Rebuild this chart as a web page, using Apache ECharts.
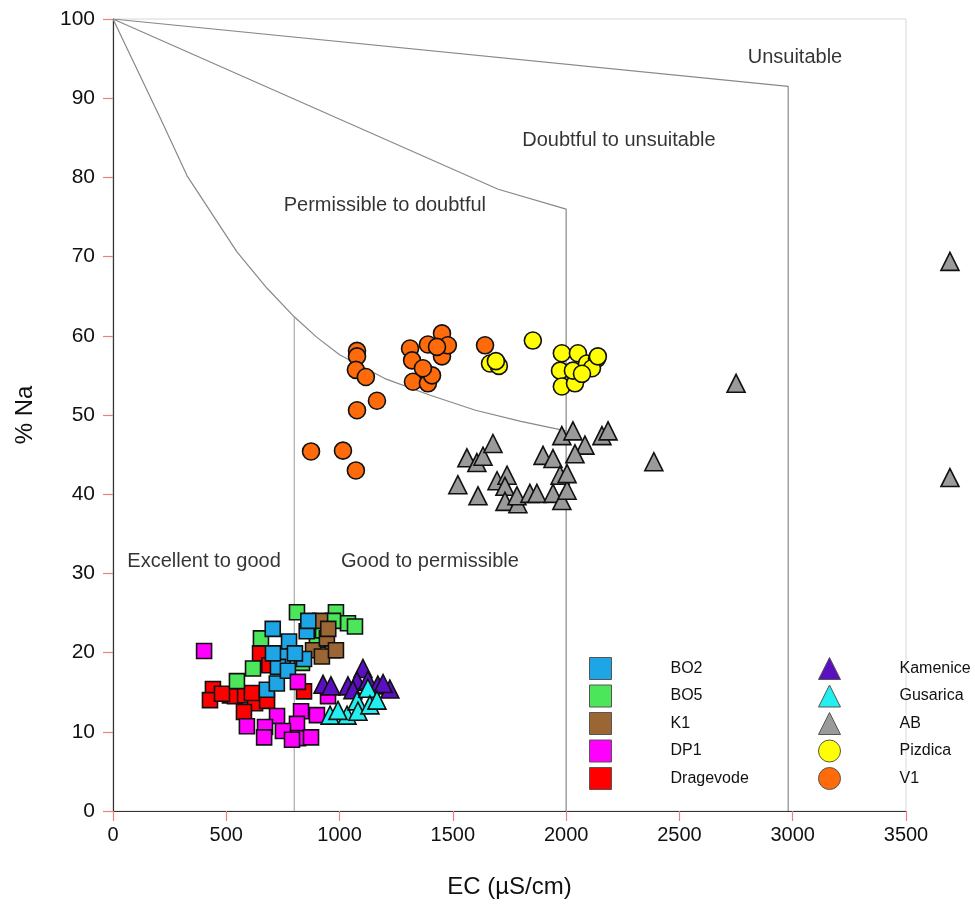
<!DOCTYPE html>
<html><head><meta charset="utf-8">
<script src="https://cdn.jsdelivr.net/npm/echarts@6/dist/echarts.min.js"></script>
<style>html,body{margin:0;padding:0;background:#fff}#c{width:975px;height:904px}</style>
</head><body><div id="c"></div>
<script>
// ---- data ----
var xTicks = [0,500,1000,1500,2000,2500,3000,3500];
var yTicks = [0,10,20,30,40,50,60,70,80,90,100];
var BO2 = [[705,23.0],[777,21.4],[855,22.7],[862,24.0],[750,19.5],[843,19.2],[728,18.2],[706,19.9],[679,15.3],[723,16.1],[803,19.9],[772,17.7]];
var BO5 = [[812,25.1],[984,25.1],[1037,23.7],[653,21.8],[618,18.0],[547,16.4],[900,21.6],[927,22.8],[1068,23.3],[834,18.7],[971,24.0]];
var K1 = [[914,24.0],[883,20.3],[971,20.3],[944,21.8],[922,19.5],[984,20.3],[950,23.0]];
var DP1 = [[402,20.2],[816,16.3],[949,14.5],[724,12.0],[830,12.6],[900,12.1],[591,10.7],[671,10.6],[667,9.3],[812,11.0],[750,10.1],[817,9.2],[874,9.3],[790,9.0]];
var Dragevode = [[441,15.4],[428,14.0],[516,14.6],[538,14.5],[583,14.6],[627,13.6],[578,12.5],[649,19.9],[680,13.9],[843,15.1],[481,14.8],[613,14.9],[690,18.4]];
var Kamenice = [[927,16.0],[962,15.8],[1103,18.0],[1037,15.8],[1077,16.4],[1125,16.5],[1169,15.9],[1222,15.4],[1059,15.3],[1192,16.1]];
var Gusarica = [[958,12.1],[1033,12.1],[1077,13.9],[1125,15.5],[1081,12.6],[1134,13.4],[1165,14.0],[993,12.7]];
var AB = [[1522,41.2],[1562,44.6],[1606,44.0],[1633,44.8],[1677,46.4],[1611,39.8],[1695,41.7],[1739,42.4],[1730,41.0],[1730,39.1],[1787,38.8],[1783,39.8],[1840,40.1],[1871,40.1],[1898,44.9],[1942,44.5],[1973,42.4],[1942,40.1],[1981,39.2],[2004,40.5],[1981,47.4],[2030,48.0],[2083,46.2],[2039,45.1],[2158,47.4],[2185,48.0],[2387,44.1],[2004,42.6],[2750,54.0],[3694,69.4],[3694,42.1]];
var Pizdica = [[1664,56.5],[1703,56.2],[1853,59.4],[1981,57.8],[2052,57.8],[1973,55.6],[1981,53.6],[2039,54.0],[2030,55.6],[2092,56.5],[2136,57.1],[2114,55.9],[2070,55.2],[2140,57.4],[1690,56.8]];
var V1 = [[1077,58.1],[1077,57.4],[1072,55.7],[1116,54.8],[1165,51.8],[1077,50.6],[874,45.4],[1015,45.5],[1072,43.0],[1311,58.4],[1320,56.9],[1324,54.2],[1390,58.9],[1390,54.0],[1452,60.3],[1452,57.4],[1408,55.0],[1368,55.9],[1478,58.8],[1430,58.6],[1642,58.8]];
// classification boundaries
var lineUnsuitable = [[0,100],[2980,91.5],[2980,0]];
var lineDoubtful = [[0,100],[1700,78.5],[2000,76],[2000,0]];
var linePermissible = [[0,100],[207,87.6],[327,80.2],[547,70.6],[680,66],[800,62.4],[900,59.8],[1000,57.6],[1200,54.6],[1400,52.5],[1600,50.6],[1800,49.2],[2000,48]];
var lineGood = [[800,62.4],[800,0]];
var regionLabels = [[3010,95.2,'Unsuitable'],[2233,84.6,'Doubtful to unsuitable'],[1200,76.5,'Permissible to doubtful'],[402,31.5,'Excellent to good'],[1399,31.5,'Good to permissible']];
var legendCol1 = ['BO2','BO5','K1','DP1','Dragevode'];
var legendCol2 = ['Kamenice','Gusarica','AB','Pizdica','V1'];

var colors = {BO2:'#1ea5e6',BO5:'#4ce65a',K1:'#9b6634',DP1:'#ff00ff',Dragevode:'#ff0000',Kamenice:'#5a0fc0',Gusarica:'#22f0f0',AB:'#9a9a9a',Pizdica:'#ffff00',V1:'#ff6a0a'};
var symbols = {BO2:'rect',BO5:'rect',K1:'rect',DP1:'rect',Dragevode:'rect',Kamenice:'triangle',Gusarica:'triangle',AB:'triangle',Pizdica:'circle',V1:'circle'};
var sizes = {rect:15,triangle:18,circle:17};
var dataMap = {BO2:BO2,BO5:BO5,K1:K1,DP1:DP1,Dragevode:Dragevode,Kamenice:Kamenice,Gusarica:Gusarica,AB:AB,Pizdica:Pizdica,V1:V1};
var FONT = 'Liberation Sans, Arial, sans-serif';

function lineSeries(d, color){
  return {type:'line', data:d, symbol:'none', silent:true, z:1,
    lineStyle:{color:color, width:1.2}, animation:false};
}
var drawOrder = ['Dragevode','BO5','K1','BO2','DP1','Kamenice','Gusarica','AB','V1','Pizdica'];
var series = [
  lineSeries(lineUnsuitable,'#888'),
  lineSeries(lineDoubtful,'#888'),
  lineSeries(linePermissible,'#888'),
  lineSeries(lineGood,'#aaa')
];
drawOrder.forEach(function(n){
  series.push({type:'scatter', name:n, data:dataMap[n], symbol:symbols[n], symbolSize:sizes[symbols[n]],
    clip:false, z:3, animation:false,
    itemStyle:{color:colors[n], borderColor:'#111', borderWidth:1.6, opacity:1}});
});
series.push({type:'scatter', silent:true, symbolSize:0, z:2, animation:false,
  itemStyle:{color:'#000'},
  data: regionLabels.map(function(r){return {value:[r[0],r[1]], name:r[2]};}),
  label:{show:true, position:'inside', formatter:'{b}', color:'#000', textBorderWidth:0, fontSize:20, fontFamily:FONT}});

function legendData(list){
  return list.map(function(n){return {name:n, icon:symbols[n]};});
}
var legendBase = {orient:'vertical', itemWidth:22, itemHeight:22, itemGap:4.5, selectedMode:false,
  textStyle:{fontSize:16, color:'#111', fontFamily:FONT, padding:[0,0,0,54]},
  itemStyle:{borderColor:'#555', borderWidth:1}};

var chart = echarts.init(document.getElementById('c'), null, {renderer:'canvas'});
chart.setOption({
  backgroundColor:'#fff',
  animation:false,
  grid:{left:113, top:19, right:69, bottom:91, show:true, borderColor:'#d8d8d8', borderWidth:1},
  xAxis:{type:'value', min:0, max:3500, interval:500,
    name:'EC (µS/cm)', nameLocation:'middle', nameGap:64,
    nameTextStyle:{fontSize:24, color:'#111', fontFamily:FONT},
    axisLine:{lineStyle:{color:'#333', width:1.2}},
    axisTick:{show:true, length:10, inside:false, lineStyle:{color:'#f08080', width:1.2}},
    axisLabel:{fontSize:20, color:'#111', margin:14, fontFamily:FONT,
      formatter:function(v){return xTicks.indexOf(v)>=0?String(v):'';}},
    splitLine:{show:false}},
  yAxis:{type:'value', min:0, max:100, interval:10,
    name:'% Na', nameLocation:'middle', nameGap:76, nameRotate:90,
    nameTextStyle:{fontSize:24, color:'#111', fontFamily:FONT},
    axisLine:{show:true, lineStyle:{color:'#333', width:1.2}},
    axisTick:{show:true, length:10, inside:false, lineStyle:{color:'#f08080', width:1.2}},
    axisLabel:{fontSize:21, color:'#111', margin:18, fontFamily:FONT,
      formatter:function(v){return yTicks.indexOf(v)>=0?String(v):'';}},
    splitLine:{show:false}},
  legend:[
    Object.assign({}, legendBase, {left:584, top:652, data:legendData(legendCol1)}),
    Object.assign({}, legendBase, {left:813, top:652, data:legendData(legendCol2)})
  ],
  series:series
});
</script>
</body></html>
